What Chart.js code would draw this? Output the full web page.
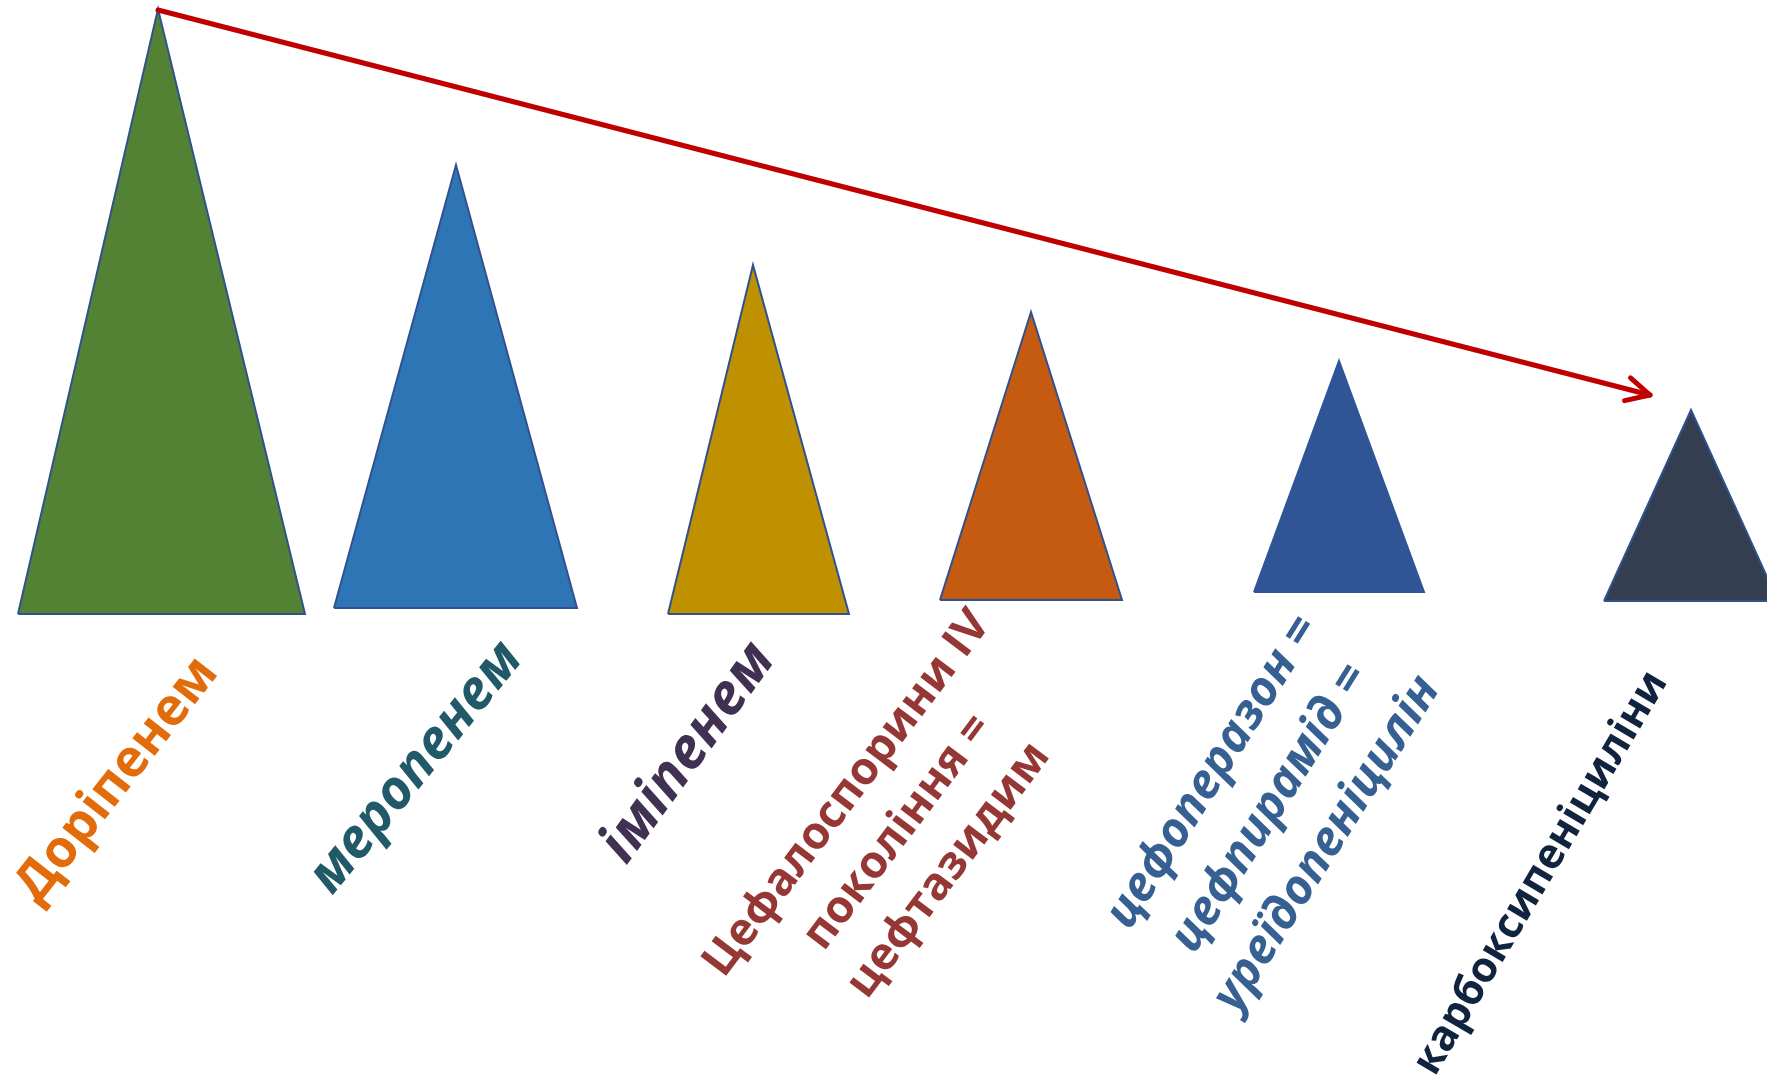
<!DOCTYPE html>
<html>
<head>
<meta charset="utf-8">
<script src="https://cdn.jsdelivr.net/npm/chart.js@4/dist/chart.umd.min.js"></script>
<style>
  html, body { margin: 0; padding: 0; background: #fff; overflow: hidden; }
  #wrap { width: 1767px; height: 1079px; }
</style>
</head>
<body>
<div id="wrap"><canvas id="chart" width="1767" height="1079"></canvas></div>
<script>
// drugs, ordered from the strongest to the weakest
const drugs = [
  "Доріпенем",
  "меропенем",
  "іміпенем",
  "Цефалоспорини IV покоління = цефтазидим",
  "цефоперазон = цефпирамід = уреїдопеніцилін",
  "карбоксипеніциліни"
];
const drugLines = [
  ["Доріпенем"],
  ["меропенем"],
  ["іміпенем"],
  ["Цефалоспорини IV", "покоління =", "цефтазидим"],
  ["цефоперазон =", "цефпирамід =", "уреїдопеніцилін"],
  ["карбоксипеніциліни"]
];

// triangle values in axis units (x across, y up)
const apexPos = [158, 456, 753, 1031, 1339, 1691];
const peakLevel = [1070, 914, 814, 767, 718, 669];
const baseLevel = [465, 471, 465, 479, 487, 478];
const baseFrom = [18, 334, 668, 940, 1254, 1604];
const baseTo = [305, 577, 849, 1122, 1424, 1778];

// trend arrow end (starts on the first peak)
const trendEnd = [1650, 684];

// styles
const fillColors = ["#548235", "#2E75B6", "#BF9000", "#C55A11", "#2F5597", "#333F50"];
const edgeColors = ["#2F528F", "#2F528F", "#2F528F", "#2F528F", "#2F5597", "#2F528F"];
const textColors = ["#E36C0A", "#215968", "#403152", "#953735", "#376092", "#10243F"];
const textItalic = [false, true, true, false, true, false];

// label placement: centre (axis units), angle, and which line / length to fit
const labelX = [117, 416, 688, 898, 1270, 1541];
const labelY = [299, 311, 326, 247, 271, 206];
const labelAngle = [-52, -51, -54, -53, -58, -59.5];
const fitLine = [0, 0, 0, 0, 2, 0];
const fitLength = [295, 305, 255, 445, 385, 460];

const datasets = drugs.map((name, i) => ({
  label: name,
  data: [
    { x: baseFrom[i], y: baseLevel[i] },
    { x: apexPos[i], y: peakLevel[i] },
    { x: baseTo[i], y: baseLevel[i] },
    { x: baseFrom[i], y: baseLevel[i] }
  ],
  backgroundColor: fillColors[i],
  borderColor: edgeColors[i],
  borderWidth: 2,
  borderJoinStyle: "miter",
  fill: "shape",
  pointRadius: 0,
  tension: 0,
  order: 1
}));

datasets.push({
  label: "trend",
  data: [
    { x: apexPos[0], y: peakLevel[0] - 1 },
    { x: trendEnd[0], y: trendEnd[1] }
  ],
  borderColor: "#C00000",
  borderWidth: 5,
  borderCapStyle: "round",
  fill: false,
  pointRadius: 0,
  order: 0
});

// chevron head on the trend line
const arrowHead = {
  id: "arrowHead",
  afterDatasetsDraw(chart) {
    const meta = chart.getDatasetMeta(drugs.length);
    const a = meta.data[0], b = meta.data[1];
    const ang = Math.atan2(b.y - a.y, b.x - a.x);
    const len = 26, spread = 27 * Math.PI / 180;
    const ctx = chart.ctx;
    ctx.save();
    ctx.strokeStyle = "#C00000";
    ctx.lineWidth = 5;
    ctx.lineCap = "round";
    ctx.lineJoin = "round";
    ctx.beginPath();
    ctx.moveTo(b.x - len * Math.cos(ang - spread), b.y - len * Math.sin(ang - spread));
    ctx.lineTo(b.x, b.y);
    ctx.lineTo(b.x - len * Math.cos(ang + spread), b.y - len * Math.sin(ang + spread));
    ctx.stroke();
    ctx.restore();
  }
};

// rotated drug names under the triangles
const slantedLabels = {
  id: "slantedLabels",
  afterDraw(chart) {
    const ctx = chart.ctx;
    const xs = chart.scales.x, ys = chart.scales.y;
    drugLines.forEach((lines, i) => {
      const style = (textItalic[i] ? "italic " : "") + "bold ";
      ctx.save();
      ctx.font = style + "100px 'Open Sans'";
      const w = ctx.measureText(lines[fitLine[i]]).width;
      const size = fitLength[i] / w * 100;
      ctx.font = style + size.toFixed(1) + "px 'Open Sans'";
      ctx.fillStyle = textColors[i];
      ctx.textAlign = "center";
      ctx.textBaseline = "middle";
      ctx.translate(xs.getPixelForValue(labelX[i]), ys.getPixelForValue(labelY[i]));
      ctx.rotate(labelAngle[i] * Math.PI / 180);
      const lh = size * 1.4;
      lines.forEach((t, k) => {
        ctx.fillText(t, 0, (k - (lines.length - 1) / 2) * lh);
      });
      ctx.restore();
    });
  }
};

new Chart(document.getElementById("chart"), {
  type: "line",
  data: { datasets: datasets },
  options: {
    responsive: false,
    devicePixelRatio: 1,
    animation: false,
    layout: { padding: 0 },
    plugins: { legend: { display: false }, tooltip: { enabled: false } },
    scales: {
      x: { type: "linear", min: 0, max: 1767, display: false },
      y: { type: "linear", min: 0, max: 1079, display: false }
    }
  },
  plugins: [arrowHead, slantedLabels]
});
</script>
</body>
</html>
